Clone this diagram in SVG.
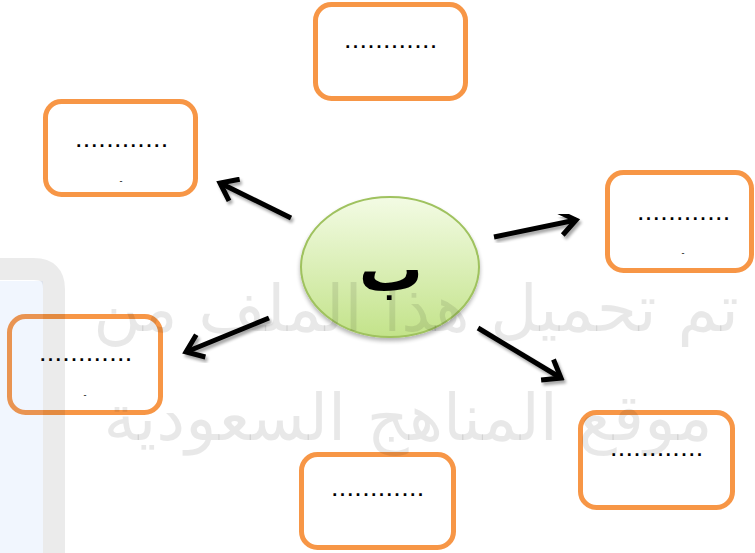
<svg xmlns="http://www.w3.org/2000/svg" width="755" height="553" viewBox="0 0 755 553">
<style>
.box{fill:#fff;stroke:#F79646;stroke-width:5}
.dots{font-family:"Liberation Sans",Arial,sans-serif;font-weight:bold;font-size:18px;letter-spacing:2.8px;text-anchor:middle;fill:#000}
.dash{font-family:"Liberation Sans",Arial,sans-serif;font-size:9px;text-anchor:middle;fill:#000}
.arr{stroke:#000;stroke-width:5;fill:none;marker-end:url(#head);filter:url(#sh)}
.wm{font-family:"DejaVu Sans",sans-serif;font-size:65px;fill:#000;fill-opacity:0.09;text-anchor:middle}
</style>
<defs>
<linearGradient id="g" x1="0" y1="0" x2="0" y2="1">
<stop offset="0" stop-color="#f3fbe4"/>
<stop offset="1" stop-color="#c3e38a"/>
</linearGradient>
<marker id="head" markerUnits="userSpaceOnUse" viewBox="-20 -14 24 28" refX="0" refY="0" markerWidth="24" markerHeight="28" orient="auto">
<polyline points="-16,-12 0,0 -16,12" fill="none" stroke="#000" stroke-width="5" stroke-linejoin="miter"/>
</marker>
<filter id="sh" x="-30%" y="-30%" width="160%" height="160%">
<feGaussianBlur in="SourceAlpha" stdDeviation="1.5"/>
<feOffset dx="2" dy="3" result="b"/>
<feComponentTransfer><feFuncA type="linear" slope="0.35"/></feComponentTransfer>
<feMerge><feMergeNode/><feMergeNode in="SourceGraphic"/></feMerge>
</filter>
<filter id="esh" x="-20%" y="-20%" width="140%" height="150%">
<feGaussianBlur in="SourceAlpha" stdDeviation="2"/>
<feOffset dx="0" dy="3"/>
<feComponentTransfer><feFuncA type="linear" slope="0.3"/></feComponentTransfer>
<feMerge><feMergeNode/><feMergeNode in="SourceGraphic"/></feMerge>
</filter>
</defs>
<rect width="755" height="553" fill="#fff"/>

<g id="connectors">
<line class="arr" x1="399" y1="182" x2="399" y2="112"/>
<line class="arr" x1="291" y1="218" x2="220" y2="183"/>
<line class="arr" x1="494" y1="237" x2="576" y2="220"/>
<line class="arr" x1="269" y1="318" x2="186" y2="352"/>
<line class="arr" x1="478" y1="328" x2="561" y2="378"/>
<line class="arr" x1="381" y1="352" x2="381" y2="428"/>
</g>

<g id="center">
<ellipse cx="390" cy="267" rx="89" ry="70" fill="url(#g)" stroke="#9fc25e" stroke-width="2" filter="url(#esh)"/>
<text x="391" y="291" font-family="'DejaVu Sans',sans-serif" font-weight="bold" font-size="64" text-anchor="middle">ب</text>
</g>

<g id="node-top">
<rect class="box" x="315.5" y="4.5" width="150" height="94" rx="16"/>
<text class="dots" x="392" y="48">............</text>
</g>
<g id="node-upper-left">
<rect class="box" x="45.5" y="101.5" width="150" height="93" rx="16"/>
<text class="dots" x="123" y="147">............</text>
<text class="dash" x="121" y="184">-</text>
</g>
<g id="node-right">
<rect class="box" x="607.5" y="172.5" width="144" height="98" rx="16"/>
<text class="dots" x="685" y="220">............</text>
<text class="dash" x="683" y="256">-</text>
</g>
<g id="node-left">
<rect class="box" x="9.5" y="316.5" width="151" height="96" rx="16"/>
<text class="dots" x="87" y="361">............</text>
<text class="dash" x="85" y="398">-</text>
</g>
<g id="node-bottom-right">
<rect class="box" x="580.5" y="412.5" width="152" height="95" rx="16"/>
<text class="dots" x="658" y="456">............</text>
</g>
<g id="node-bottom">
<rect class="box" x="301.5" y="454.5" width="152" height="93" rx="16"/>
<text class="dots" x="379" y="496">............</text>
</g>

<g id="watermark">
<rect x="0" y="281" width="43" height="272" fill="#3b82f6" fill-opacity="0.07"/>
<path d="M 0 269 H 34 Q 54 269 54 289 V 553" fill="none" stroke="#000" stroke-opacity="0.08" stroke-width="22"/>
<text class="wm" x="416" y="331">تم تحميل هذا الملف من</text>
<text class="wm" x="408" y="440">موقع المناهج السعودية</text>
</g>
</svg>
